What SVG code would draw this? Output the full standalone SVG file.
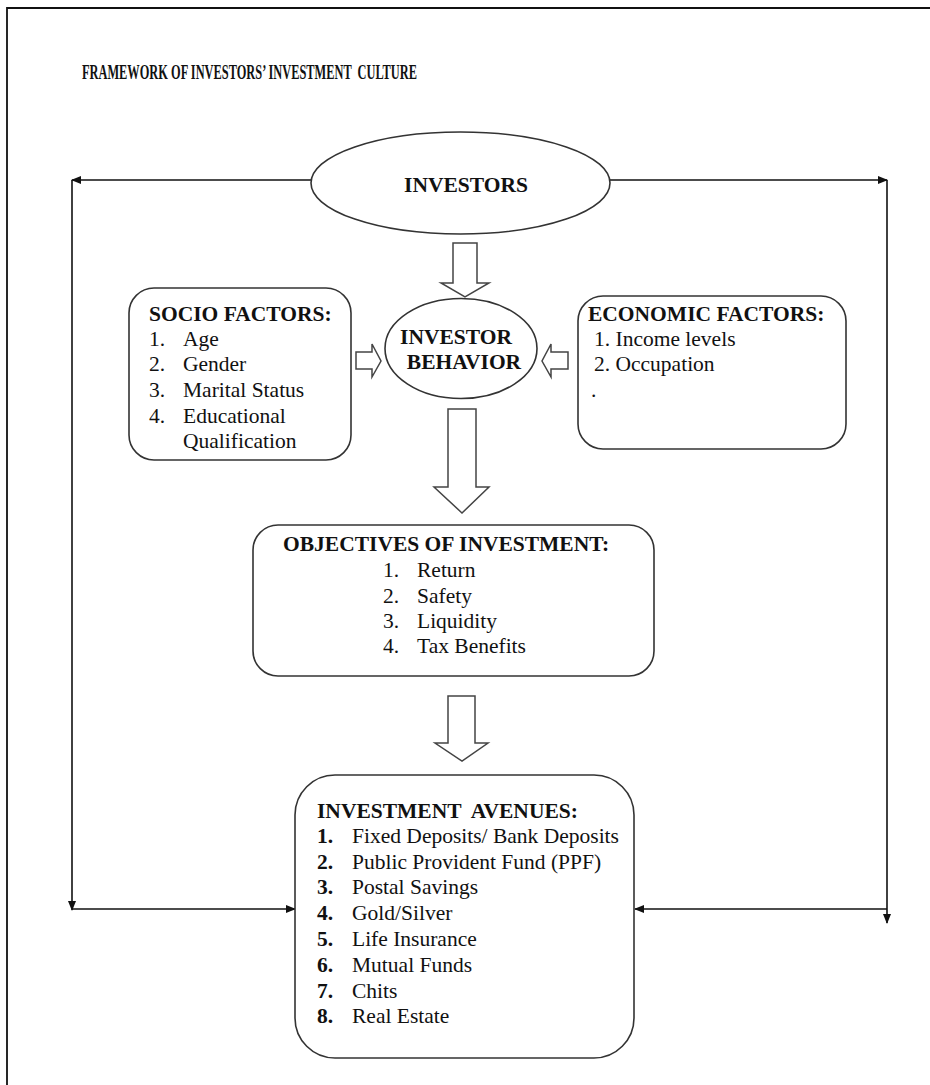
<svg xmlns="http://www.w3.org/2000/svg" width="930" height="1085" viewBox="0 0 930 1085">
<style>
text{font-family:"Liberation Serif","Times New Roman",serif;fill:#111;font-size:21.5px;white-space:pre}
.b{font-weight:bold}
.box{fill:#fff;stroke:#333;stroke-width:1.6}
.blk{fill:#fff;stroke:#444;stroke-width:1.5}
.ln{fill:none;stroke:#111;stroke-width:1.6}
</style>
<defs>
<marker id="ah" markerWidth="10" markerHeight="8" refX="9" refY="4" orient="auto" markerUnits="userSpaceOnUse">
<path d="M0,0 L10,4 L0,8 Z" fill="#111"/>
</marker>
</defs>
<rect width="930" height="1085" fill="#fff"/>
<path d="M7,1085 V8 H930" fill="none" stroke="#111" stroke-width="1.8"/>
<text class="b" x="82" y="79" font-size="20" textLength="335" lengthAdjust="spacingAndGlyphs" xml:space="preserve">FRAMEWORK OF INVESTORS’ INVESTMENT  CULTURE</text>

<g id="connectors">
<path class="ln" d="M311,180 H72" marker-end="url(#ah)"/>
<path class="ln" d="M72,180 V910" marker-end="url(#ah)"/>
<path class="ln" d="M72,909 H295" marker-end="url(#ah)"/>
<path class="ln" d="M610,180 H887" marker-end="url(#ah)"/>
<path class="ln" d="M887,180 V923" marker-end="url(#ah)"/>
<path class="ln" d="M887,909 H635" marker-end="url(#ah)"/>
<polygon class="blk" points="453,243 477,243 477,283 489,283 465,297 441,283 453,283"/>
<polygon class="blk" points="448,409 476,409 476,487 489,487 462,513 434,487 448,487"/>
<polygon class="blk" points="448,696 475,696 475,743 488,743 462,761 435,743 448,743"/>
<polygon class="blk" points="356,352 372,352 372,344 381,361 372,377 372,369 356,369"/>
<polygon class="blk" points="568,352 551,352 551,344 542,361 551,377 551,369 568,369"/>
</g>

<g id="investors">
<ellipse class="box" cx="460.5" cy="183" rx="149.5" ry="51"/>
<text class="b" x="466" y="192" text-anchor="middle">INVESTORS</text>
</g>

<g id="socio">
<rect class="box" x="129" y="288" width="222" height="172" rx="25"/>
<text class="b" x="149" y="321">SOCIO FACTORS:</text>
<text x="149" y="346">1.</text><text x="183" y="346">Age</text>
<text x="149" y="371">2.</text><text x="183" y="371">Gender</text>
<text x="149" y="397">3.</text><text x="183" y="397">Marital Status</text>
<text x="149" y="423">4.</text><text x="183" y="423">Educational</text>
<text x="183" y="448">Qualification</text>
</g>

<g id="behavior">
<ellipse class="box" cx="461" cy="348.5" rx="76" ry="50"/>
<text class="b" x="456" y="344" text-anchor="middle">INVESTOR</text>
<text class="b" x="464" y="369" text-anchor="middle">BEHAVIOR</text>
</g>

<g id="economic">
<rect class="box" x="578" y="296" width="268" height="153" rx="25"/>
<text class="b" x="588" y="321">ECONOMIC FACTORS:</text>
<text x="594" y="346">1. Income levels</text>
<text x="594" y="371">2. Occupation</text>
<text x="591" y="397">.</text>
</g>

<g id="objectives">
<rect class="box" x="253" y="525" width="401" height="151" rx="25"/>
<text class="b" x="283" y="551">OBJECTIVES OF INVESTMENT:</text>
<text x="383" y="577">1.</text><text x="417" y="577">Return</text>
<text x="383" y="603">2.</text><text x="417" y="603">Safety</text>
<text x="383" y="628">3.</text><text x="417" y="628">Liquidity</text>
<text x="383" y="653">4.</text><text x="417" y="653">Tax Benefits</text>
</g>

<g id="avenues">
<rect class="box" x="295" y="775" width="339" height="283" rx="40"/>
<text class="b" x="317" y="818" xml:space="preserve">INVESTMENT  AVENUES:</text>
<text class="b" x="317" y="843">1.</text><text x="352" y="843">Fixed Deposits/ Bank Deposits</text>
<text class="b" x="317" y="869">2.</text><text x="352" y="869">Public Provident Fund (PPF)</text>
<text class="b" x="317" y="894">3.</text><text x="352" y="894">Postal Savings</text>
<text class="b" x="317" y="920">4.</text><text x="352" y="920">Gold/Silver</text>
<text class="b" x="317" y="946">5.</text><text x="352" y="946">Life Insurance</text>
<text class="b" x="317" y="972">6.</text><text x="352" y="972">Mutual Funds</text>
<text class="b" x="317" y="998">7.</text><text x="352" y="998">Chits</text>
<text class="b" x="317" y="1023">8.</text><text x="352" y="1023">Real Estate</text>
</g>
</svg>
